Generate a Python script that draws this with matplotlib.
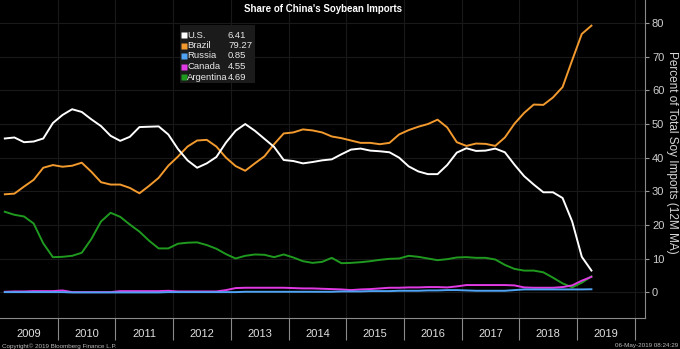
import matplotlib
matplotlib.use("Agg")
import matplotlib.pyplot as plt
import numpy as np

plt.rcParams['font.family'] = ['Liberation Sans', 'DejaVu Sans']

# bi-monthly readings, Jan 2009 .. Mar 2019 (12M moving average, % of total)
months = list(range(0, 123, 2))

us = [45.7, 46.0, 44.6, 44.8, 45.7, 50.3, 52.7, 54.4, 53.6, 51.4, 49.4, 46.5,
      45.0, 46.2, 49.1, 49.2, 49.3, 46.9, 42.6, 39.2, 37.0, 38.3, 40.2, 44.5,
      48.0, 50.0, 48.0, 45.6, 43.2, 39.3, 39.0, 38.3, 38.7, 39.2, 39.5, 41.0,
      42.4, 42.7, 42.1, 41.9, 41.6, 40.0, 37.4, 35.9, 35.1, 35.1, 37.8, 41.5,
      42.8, 42.0, 42.1, 42.7, 41.6, 37.9, 34.5, 32.0, 29.7, 29.7, 28.0, 21.0,
      10.5, 6.41]
brazil = [29.1, 29.3, 31.4, 33.4, 37.0, 37.8, 37.3, 37.6, 38.5, 35.8, 32.7, 32.0,
          32.0, 31.0, 29.4, 31.6, 34.0, 37.6, 40.3, 43.3, 45.1, 45.3, 43.3, 40.0,
          37.5, 36.1, 38.3, 40.4, 44.0, 47.2, 47.5, 48.4, 48.1, 47.5, 46.3, 45.8,
          45.1, 44.4, 44.4, 44.0, 44.4, 46.9, 48.2, 49.2, 50.0, 51.3, 49.0, 44.6,
          43.5, 44.2, 44.1, 43.5, 46.0, 50.1, 53.3, 55.8, 55.7, 57.9, 61.0, 69.0,
          76.8, 79.27]
russia = [0.0, 0.0, 0.0, 0.0, 0.0, 0.0, 0.0, -0.1, -0.1, -0.1, -0.1, -0.1,
          -0.1, -0.1, -0.1, -0.1, -0.1, 0.0, 0.0, 0.0, 0.0, 0.0, 0.0, 0.0,
          0.0, 0.1, 0.1, 0.1, 0.1, 0.1, 0.1, 0.1, 0.1, 0.1, 0.1, 0.2,
          0.2, 0.2, 0.3, 0.3, 0.3, 0.4, 0.4, 0.4, 0.5, 0.5, 0.6, 0.6,
          0.5, 0.4, 0.4, 0.4, 0.4, 0.6, 0.8, 0.8, 0.8, 0.8, 0.8, 0.8,
          0.8, 0.85]
canada = [0.1, 0.2, 0.2, 0.3, 0.3, 0.3, 0.5, 0.0, 0.0, 0.0, 0.0, 0.0,
          0.3, 0.3, 0.3, 0.3, 0.3, 0.4, 0.2, 0.2, 0.2, 0.2, 0.2, 0.6,
          1.2, 1.3, 1.3, 1.3, 1.3, 1.3, 1.2, 1.1, 1.1, 1.0, 0.9, 0.8,
          0.6, 0.8, 0.9, 1.1, 1.3, 1.3, 1.4, 1.4, 1.5, 1.5, 1.4, 1.7,
          2.1, 2.1, 2.1, 2.1, 2.1, 2.0, 1.4, 1.3, 1.3, 1.3, 1.5, 2.0,
          3.4, 4.55]
argentina = [23.9, 23.0, 22.5, 20.4, 14.5, 10.4, 10.5, 10.8, 11.7, 15.8, 21.0, 23.6,
             22.4, 20.1, 18.0, 15.3, 13.0, 13.0, 14.4, 14.7, 14.8, 14.0, 12.9, 11.3,
             10.0, 10.8, 11.2, 11.1, 10.4, 11.2, 10.3, 9.2, 8.7, 9.0, 10.2, 8.6,
             8.7, 8.9, 9.2, 9.6, 9.9, 10.0, 10.8, 10.5, 10.0, 9.5, 9.8, 10.3,
             10.4, 10.2, 10.2, 9.7, 8.1, 6.9, 6.4, 6.4, 5.9, 4.3, 2.6, 1.4,
             2.8, 4.69]

names = ['U.S.', 'Brazil', 'Russia', 'Canada', 'Argentina']
colors = ['#ffffff', '#f29a2e', '#4fa3f2', '#e23be6', '#1f9a1f']
series = [us, brazil, russia, canada, argentina]

years = list(range(2009, 2020))

x = 2009 + (np.array(months) + 1) / 12.0

fig = plt.figure(figsize=(6.8, 3.49), dpi=100, facecolor='black')
ax = fig.add_axes([0.0, 31 / 349, 645 / 680, 318 / 349], facecolor='black')

# draw back to front so the US line sits on top
for name, col, vals in reversed(list(zip(names, colors, series))):
    ax.plot(x, vals, color=col, lw=1.4, solid_joinstyle='round')

ax.set_xlim(2009, 2009 + 645 / 57.7)
ax.set_ylim(-7.7, 86.9)

ax.yaxis.tick_right()
ax.set_yticks(range(0, 90, 10))
ax.tick_params(axis='y', colors='#cfcfcf', labelsize=8, length=3, width=0.8,
               pad=2, color='#9a9a9a')

# year separators below the plot, labels centred in each year
ax.set_xticks(range(2010, 2021))
ax.set_xticklabels([])
ax.set_xticks([y + 0.5 for y in years], minor=True)
ax.set_xticklabels([str(y) for y in years], minor=True)
ax.tick_params(axis='x', which='major', direction='out', length=16, width=0.8,
               color='#8a8a8a')
ax.tick_params(axis='x', which='minor', length=0, pad=8, labelsize=8,
               labelcolor='#e0e0e0')

ax.grid(True, which='major', color='#191919', lw=0.8)
for s in ['top', 'left']:
    ax.spines[s].set_visible(False)
for s in ['bottom', 'right']:
    ax.spines[s].set_color('#8a8a8a')
    ax.spines[s].set_linewidth(0.8)

ax.text(323 / 645, 1 - 9.5 / 318, "Share of China's Soybean Imports",
        transform=ax.transAxes, ha='center', va='center', color='white',
        fontsize=7, fontweight='bold')

# legend box with last values
box = plt.Rectangle((180 / 645, 1 - 83 / 318), 75 / 645, 58 / 318,
                    transform=ax.transAxes, facecolor='#1b1b1b',
                    edgecolor='none', zorder=5)
ax.add_patch(box)
for k, (name, col, vals) in enumerate(zip(names, colors, series)):
    yy = 1 - (35 + 10.5 * k) / 318
    ax.plot([183.5 / 645], [yy], marker='s', ms=4, color=col, mec='none',
            transform=ax.transAxes, zorder=6, clip_on=False)
    ax.text(187 / 645, yy, name, transform=ax.transAxes, ha='left',
            va='center', color='#e8e8e8', fontsize=6.8, zorder=6)
    ax.text(228 / 645, yy, f'{vals[-1]:.2f}', transform=ax.transAxes,
            ha='left', va='center', color='#e8e8e8', fontsize=6.8, zorder=6)

fig.text(672 / 680, 1 - 152 / 349, 'Percent of Total Soy Imports (12M MA)',
         rotation=270, ha='center', va='center', color='#d8d8d8', fontsize=8.5)

fig.text(2 / 680, 3 / 349, 'Copyright\u00a9 2019 Bloomberg Finance L.P.',
         ha='left', va='center', color='#bbbbbb', fontsize=4.5)
fig.text(678 / 680, 3 / 349, '06-May-2019 08:24:29', ha='right',
         va='center', color='#bbbbbb', fontsize=4.5)

fig.savefig('out.png', dpi=100, facecolor='black')
